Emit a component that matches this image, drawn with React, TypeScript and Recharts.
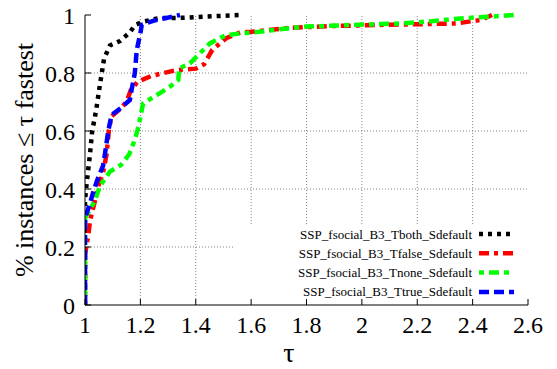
import React from 'react';
import { LineChart, Line, XAxis, YAxis, ReferenceLine } from 'recharts';

const seriesNames = [
  'SSP_fsocial_B3_Tboth_Sdefault',
  'SSP_fsocial_B3_Tfalse_Sdefault',
  'SSP_fsocial_B3_Tnone_Sdefault',
  'SSP_fsocial_B3_Ttrue_Sdefault',
];

const tbothX = [1, 1, 1.006, 1.012, 1.018, 1.026, 1.04, 1.054, 1.069, 1.09, 1.126, 1.162, 1.18, 1.21, 1.27, 1.34, 1.56];
const tbothY = [0, 0.36, 0.42, 0.47, 0.52, 0.6, 0.67, 0.76, 0.85, 0.895, 0.91, 0.94, 0.965, 0.977, 0.99, 0.99, 1.0];

const tfalseX = [1, 1, 1.006, 1.012, 1.018, 1.036, 1.048, 1.065, 1.078, 1.086, 1.095, 1.12, 1.15, 1.165, 1.19, 1.24, 1.33, 1.4, 1.43, 1.46, 1.51, 1.56, 1.6, 1.74, 1.9, 2.08, 2.25, 2.34, 2.43, 2.47];
const tfalseY = [0, 0.17, 0.21, 0.24, 0.29, 0.36, 0.41, 0.455, 0.52, 0.6, 0.65, 0.67, 0.7, 0.74, 0.77, 0.79, 0.81, 0.815, 0.83, 0.88, 0.92, 0.94, 0.942, 0.956, 0.962, 0.966, 0.969, 0.971, 0.983, 1.0];

const tnoneX = [1, 1, 1.018, 1.036, 1.054, 1.09, 1.13, 1.16, 1.18, 1.193, 1.205, 1.21, 1.259, 1.307, 1.337, 1.34, 1.379, 1.415, 1.451, 1.51, 1.57, 1.63, 1.704, 1.8, 1.884, 1.98, 2.065, 2.149, 2.233, 2.33, 2.414, 2.51, 2.552];
const tnoneY = [0, 0.3, 0.33, 0.36, 0.41, 0.46, 0.483, 0.52, 0.57, 0.615, 0.672, 0.695, 0.724, 0.753, 0.776, 0.816, 0.833, 0.868, 0.902, 0.931, 0.937, 0.942, 0.951, 0.96, 0.963, 0.966, 0.969, 0.971, 0.977, 0.986, 0.992, 0.997, 1.0];

const ttrueX = [1, 1, 1.018, 1.03, 1.042, 1.065, 1.072, 1.084, 1.096, 1.13, 1.162, 1.168, 1.18, 1.187, 1.2, 1.205, 1.246, 1.343];
const ttrueY = [0, 0.3, 0.35, 0.39, 0.425, 0.48, 0.52, 0.6, 0.655, 0.68, 0.707, 0.74, 0.8, 0.88, 0.937, 0.966, 0.98, 1.0];

const xTicks = [1, 1.2, 1.4, 1.6, 1.8, 2, 2.2, 2.4, 2.6];
const yTicks = [0, 0.2, 0.4, 0.6, 0.8, 1];

const zip = (xs: number[], ys: number[]) => xs.map((x, i) => ({ x, y: ys[i] }));

const series = [
  { name: seriesNames[0], data: zip(tbothX, tbothY), color: '#000000', dash: '4 5' },
  { name: seriesNames[1], data: zip(tfalseX, tfalseY), color: '#ff0000', dash: '10 5 4 5' },
  { name: seriesNames[2], data: zip(tnoneX, tnoneY), color: '#00ff00', dash: '5 5 10 5' },
  { name: seriesNames[3], data: zip(ttrueX, ttrueY), color: '#0000ff', dash: '10 5' },
];

const FONT = 'Liberation Serif';
const gridStyle = { stroke: '#808080', strokeDasharray: '1 2', strokeWidth: 1 };

// grid segments (gnuplot leaves the key area clear)
const vGridFull = [1.2, 1.4];
const vGridShort = [1.6, 1.8, 2, 2.2, 2.4];
const hGridFull = [0.4, 0.6, 0.8];
const hGridShort = [0.2];

const LegendBox = () => (
  <g transform="translate(270, 222)">
    {series.map((s, i) => {
      const cy = 12 + i * 19.3;
      return (
        <g key={s.name}>
          <text x={202} y={cy} textAnchor="end" dominantBaseline="central" fontFamily={FONT} fontSize={13} fill="#000">
            {s.name}
          </text>
          <line x1={209} x2={244} y1={cy} y2={cy} stroke={s.color} strokeWidth={4.5} strokeDasharray={s.dash} />
        </g>
      );
    })}
  </g>
);

const YLabel = () => {
  const x = 24;
  const y = 160;
  return (
    <text x={x} y={y} transform={`rotate(-90 ${x} ${y})`} textAnchor="middle" dominantBaseline="central" fontFamily={FONT} fontSize={26} fill="#000">
      % instances ≤ τ fastest
    </text>
  );
};

const XLabel = () => (
  <text x={289} y={362} textAnchor="middle" fontFamily={FONT} fontSize={28} fill="#000">τ</text>
);

const tickStyle = { fontFamily: FONT, fontSize: 24, fill: '#000' };

export default function App() {
  return (
    <div style={{ position: 'absolute', left: 0, top: 0, width: 557, height: 369, background: '#fff', fontFamily: FONT }}>
      <LineChart width={557} height={369} margin={{ top: 15, right: 29, left: 0, bottom: 0 }}>
        <XAxis
          xAxisId="b"
          type="number"
          dataKey="x"
          domain={[1, 2.6]}
          ticks={xTicks}
          allowDataOverflow
          height={64}
          stroke="#000"
          tickSize={-6}
          tickMargin={17}
          tick={tickStyle}
          tickFormatter={(v: number) => String(v)}
          label={<XLabel />}
        />
        <XAxis
          xAxisId="t"
          orientation="top"
          type="number"
          dataKey="x"
          domain={[1, 2.6]}
          ticks={xTicks}
          allowDataOverflow
          height={0}
          stroke="#000"
          tickSize={-6}
          tick={false}
        />
        <YAxis
          yAxisId="l"
          type="number"
          domain={[0, 1]}
          ticks={yTicks}
          width={85}
          stroke="#000"
          tickSize={-6}
          tickMargin={16}
          tick={tickStyle}
          tickFormatter={(v: number) => String(v)}
          label={<YLabel />}
        />
        <YAxis
          yAxisId="r"
          orientation="right"
          type="number"
          domain={[0, 1]}
          ticks={yTicks}
          width={0}
          stroke="#000"
          tickSize={-6}
          tick={false}
        />
        {vGridFull.map((v) => (
          <ReferenceLine key={'vf' + v} xAxisId="b" yAxisId="l" segment={[{ x: v, y: 0 }, { x: v, y: 1 }]} {...gridStyle} />
        ))}
        {vGridShort.map((v) => (
          <ReferenceLine key={'vs' + v} xAxisId="b" yAxisId="l" segment={[{ x: v, y: 0.279 }, { x: v, y: 1 }]} {...gridStyle} />
        ))}
        {hGridFull.map((v) => (
          <ReferenceLine key={'hf' + v} xAxisId="b" yAxisId="l" segment={[{ x: 1, y: v }, { x: 2.6, y: v }]} {...gridStyle} />
        ))}
        {hGridShort.map((v) => (
          <ReferenceLine key={'hs' + v} xAxisId="b" yAxisId="l" segment={[{ x: 1, y: v }, { x: 1.54, y: v }]} {...gridStyle} />
        ))}
        {series.map((s) => (
          <Line
            key={s.name}
            xAxisId="b"
            yAxisId="l"
            data={s.data}
            dataKey="y"
            name={s.name}
            type="linear"
            stroke={s.color}
            strokeWidth={4.5}
            strokeDasharray={s.dash}
            dot={false}
            activeDot={false}
            isAnimationActive={false}
          />
        ))}
        <LegendBox />
      </LineChart>
    </div>
  );
}
